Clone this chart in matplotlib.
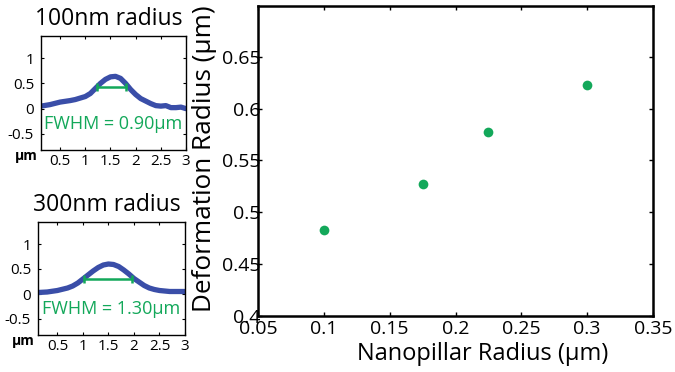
import matplotlib
matplotlib.use("Agg")
import matplotlib.pyplot as plt

plt.rcParams['font.family'] = ['Open Sans', 'DejaVu Sans']

# Main scatter data
pillar_radius = [0.1, 0.175, 0.225, 0.3]
deform_radius = [0.483, 0.527, 0.577, 0.623]

# Profile 100nm
x100 = [0.12, 0.3, 0.5, 0.7, 0.8, 0.9, 1.0, 1.1, 1.2, 1.3, 1.4, 1.5, 1.6, 1.7, 1.8,
        1.9, 2.0, 2.1, 2.2, 2.3, 2.4, 2.5, 2.6, 2.7, 2.8, 2.9, 3.0]
y100 = [0.05, 0.08, 0.13, 0.16, 0.18, 0.21, 0.24, 0.30, 0.40, 0.50, 0.58, 0.63, 0.64, 0.60, 0.50,
        0.38, 0.28, 0.20, 0.15, 0.10, 0.06, 0.05, 0.06, 0.02, 0.02, 0.03, 0.0]
fwhm100 = [1.23, 1.81, 0.42]

# Profile 300nm
x300 = [0.12, 0.3, 0.5, 0.7, 0.8, 0.9, 1.0, 1.1, 1.2, 1.3, 1.4, 1.5, 1.6, 1.7, 1.8,
        1.9, 2.0, 2.1, 2.2, 2.3, 2.4, 2.5, 2.7, 3.0]
y300 = [0.03, 0.04, 0.07, 0.12, 0.16, 0.22, 0.30, 0.38, 0.46, 0.53, 0.58, 0.60, 0.59, 0.55, 0.48,
        0.40, 0.31, 0.24, 0.17, 0.12, 0.09, 0.07, 0.05, 0.05]
fwhm300 = [1.02, 1.97, 0.31]

green = '#13a85a'
blue = '#3a4ea8'

W, H = 675, 372
fig = plt.figure(figsize=(W / 100, H / 100), dpi=100)

def fr(l, r, t, b):
    return [l / W, 1 - b / H, (r - l) / W, (b - t) / H]

# Main axes
ax = fig.add_axes(fr(258, 653, 6, 316))
ax.plot(pillar_radius, deform_radius, 'o', color=green, markersize=7, markeredgewidth=0)
ax.set_xlim(0.05, 0.35)
ax.set_ylim(0.4, 0.699)
ax.set_xticks([0.05, 0.1, 0.15, 0.2, 0.25, 0.3, 0.35])
ax.set_xticklabels(['0.05', '0.1', '0.15', '0.2', '0.25', '0.3', '0.35'])
ax.set_yticks([0.4, 0.45, 0.5, 0.55, 0.6, 0.65])
ax.set_yticklabels(['0.4', '0.45', '0.5', '0.55', '0.6', '0.65'])
ax.tick_params(direction='in', length=3, width=1, top=True, right=True, labelsize=14)
ax.tick_params(axis='y', pad=-2)
ax.tick_params(axis='x', pad=3)
for s in ax.spines.values():
    s.set_linewidth(1.8)
ax.set_xlabel('Nanopillar Radius (µm)', fontsize=17)
ax.set_ylabel('Deformation Radius (µm)', fontsize=18.8)
ax.xaxis.set_label_coords(0.568, -0.085)
ax.yaxis.set_label_coords(-0.104, 0.506)

def small(rect, xs, ys, fw, title, text):
    a = fig.add_axes(rect)
    a.plot(xs, ys, color=blue, linewidth=3.8, solid_capstyle='round', solid_joinstyle='round')
    a.plot([fw[0], fw[1]], [fw[2], fw[2]], color=green, linewidth=1.8)
    a.plot([fw[0], fw[1]], [fw[2], fw[2]], '|', color=green, markersize=6, markeredgewidth=1.8)
    a.set_xlim(0.12, 3.0)
    a.set_ylim(-0.82, 1.44)
    a.set_xticks([0.5, 1, 1.5, 2, 2.5, 3])
    a.set_xticklabels(['0.5', '1', '1.5', '2', '2.5', '3'])
    a.set_yticks([-0.5, 0, 0.5, 1])
    a.set_yticklabels(['-0.5', '0', '0.5', '1'])
    a.tick_params(direction='in', length=2, width=0.8, top=True, right=True, labelsize=11)
    a.tick_params(axis='y', pad=5)
    a.tick_params(axis='x', pad=3)
    for s in a.spines.values():
        s.set_linewidth(1.0)
    t = a.set_title(title, fontsize=16.5, pad=8)
    t.set_x(0.47)
    a.text(0.5, 0.23, text, transform=a.transAxes, color=green, fontsize=13,
           ha='center', va='center')
    a.text(-0.02, -0.05, 'µm', transform=a.transAxes, fontsize=10, fontweight='bold',
           ha='right', va='center')
    return a

small(fr(41, 186, 36, 150), x100, y100, fwhm100, '100nm radius', 'FWHM = 0.90µm')
small(fr(38, 185, 222, 335), x300, y300, fwhm300, '300nm radius', 'FWHM = 1.30µm')

fig.savefig('out.png', dpi=100)
